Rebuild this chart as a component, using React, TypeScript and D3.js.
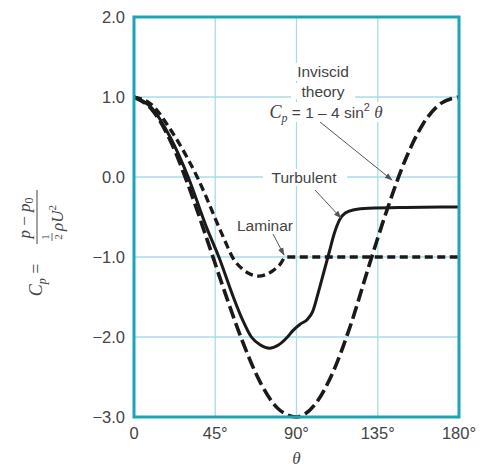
import * as d3 from 'd3'

// Cp vs theta
const thetaInviscid = [0, 10, 20, 30, 40, 50, 60, 70, 80, 90, 100, 110, 120, 130, 140, 150, 160, 170, 180]
const cpInviscid = [1.0, 0.84, 0.46, -0.1, -0.75, -1.42, -2.05, -2.57, -2.9, -3.0, -2.85, -2.45, -1.85, -1.12, -0.42, 0.2, 0.66, 0.92, 1.0]

const thetaTurbulent = [0, 10, 20, 30, 40, 47, 55, 60, 65, 70, 75, 80, 85, 88, 92, 96, 99, 102, 105, 108, 111, 114, 117, 122, 130, 150, 180]
const cpTurbulent = [1.0, 0.86, 0.5, 0.0, -0.62, -1.0, -1.5, -1.78, -2.0, -2.1, -2.14, -2.1, -2.0, -1.92, -1.84, -1.78, -1.68, -1.45, -1.2, -0.95, -0.7, -0.53, -0.45, -0.41, -0.39, -0.38, -0.375]

const thetaLaminar = [0, 10, 20, 30, 35, 40, 45, 50, 55, 60, 65, 69, 73, 77, 81, 84, 120, 180]
const cpLaminar = [1.0, 0.9, 0.6, 0.22, 0.0, -0.25, -0.52, -0.78, -1.02, -1.15, -1.22, -1.24, -1.22, -1.17, -1.09, -1.0, -1.0, -1.0]

const yTicks = [2, 1, 0, -1, -2, -3]
const yTickLabels = ['2.0', '1.0', '0.0', '\u22121.0', '\u22122.0', '\u22123.0']
const xTicks = [0, 45, 90, 135, 180]
const xTickLabels = ['0', '45\u00b0', '90\u00b0', '135\u00b0', '180\u00b0']

const W = 487
const H = 468
const m = { left: 134, right: 28, top: 17, bottom: 51 }

const x = d3.scaleLinear().domain([0, 180]).range([m.left, W - m.right])
const y = d3.scaleLinear().domain([-3, 2]).range([H - m.bottom, m.top])

const line = d3
  .line<[number, number]>()
  .x((d) => x(d[0]))
  .y((d) => y(d[1]))
  .curve(d3.curveMonotoneX)

const zip = (a: number[], b: number[]) => a.map((v, i) => [v, b[i]] as [number, number])

const GRID = '#a9dde4'
const FRAME = '#1aa5b2'
const TXT = '#444'
const SANS = "'Liberation Sans', Arial, sans-serif"
const SERIF = "'Liberation Serif', 'Times New Roman', serif"

export default function App() {
  const [x0, x1] = x.range()
  const [y0, y1] = y.range()
  return (
    <svg width={W} height={H} style={{ position: 'absolute', left: 0, top: 0, background: '#fff' }}>
      <defs>
        <marker id="ah" viewBox="0 0 10 10" refX="9" refY="5" markerWidth="8" markerHeight="8" orient="auto" markerUnits="userSpaceOnUse">
          <path d="M0,1.5 L10,5 L0,8.5 Z" fill="#555" />
        </marker>
      </defs>

      {/* grid */}
      {yTicks.slice(1, -1).map((t) => (
        <line key={'gy' + t} x1={x0} x2={x1} y1={y(t)} y2={y(t)} stroke={GRID} strokeWidth={1.3} />
      ))}
      {xTicks.slice(1, -1).map((t) => (
        <line key={'gx' + t} x1={x(t)} x2={x(t)} y1={y1} y2={y0} stroke={GRID} strokeWidth={1.3} />
      ))}

      {/* white boxes behind labels */}
      <rect x={293} y={63} width={60} height={18} fill="#fff" />
      <rect x={291} y={83} width={64} height={16} fill="#fff" />
      <rect x={262} y={102} width={132} height={20} fill="#fff" />
      <rect x={263} y={169} width={84} height={17} fill="#fff" />

      {/* curves */}
      <path d={line(zip(thetaInviscid, cpInviscid)) || ''} fill="none" stroke="#1a1a1a" strokeWidth={3.6} strokeDasharray="13 5" />
      <path d={line(zip(thetaLaminar, cpLaminar)) || ''} fill="none" stroke="#1a1a1a" strokeWidth={3.3} strokeDasharray="8 4.5" />
      <path d={line(zip(thetaTurbulent, cpTurbulent)) || ''} fill="none" stroke="#1a1a1a" strokeWidth={3} />

      {/* frame */}
      <rect x={x0} y={y1} width={x1 - x0} height={y0 - y1} fill="none" stroke={FRAME} strokeWidth={3} />

      {/* ticks */}
      {yTicks.map((t, i) => (
        <text key={'yl' + t} x={x0 - 9} y={y(t)} dy="0.36em" textAnchor="end" fontFamily={SANS} fontSize={16.5} fill={TXT}>
          {yTickLabels[i]}
        </text>
      ))}
      {xTicks.map((t, i) => (
        <text key={'xl' + t} x={x(t)} y={y0 + 16} dy="0.36em" textAnchor="middle" fontFamily={SANS} fontSize={16.5} fill={TXT}>
          {xTickLabels[i]}
        </text>
      ))}
      <text x={x(90)} y={y0 + 47} textAnchor="middle" fontFamily={SERIF} fontStyle="italic" fontSize={17} fill={TXT}>
        θ
      </text>

      {/* annotations */}
      <g fontFamily={SANS} fontSize={15.5} fill={TXT} textAnchor="middle">
        <text x={323} y={77}>Inviscid</text>
        <text x={323} y={97}>theory</text>
        <text x={326} y={118}>
          <tspan fontFamily={SERIF} fontStyle="italic" fontSize={18}>C</tspan>
          <tspan fontFamily={SERIF} fontStyle="italic" fontSize={12} dy={4}>p</tspan>
          <tspan dy={-4}> = 1 – 4 sin</tspan>
          <tspan fontSize={11} dy={-7}>2</tspan>
          <tspan fontFamily={SERIF} fontStyle="italic" fontSize={17} dy={7}> θ</tspan>
        </text>
        <text x={304} y={183}>Turbulent</text>
        <text x={265} y={231}>Laminar</text>
      </g>
      <g stroke="#555" strokeWidth={1} fill="none">
        <line x1={320} y1={122} x2={392} y2={180} markerEnd="url(#ah)" />
        <line x1={315} y1={190} x2={341} y2={218} markerEnd="url(#ah)" />
        <line x1={273} y1={234} x2={284} y2={255} markerEnd="url(#ah)" />
      </g>

      {/* y-axis label, rotated */}
      <g transform="translate(45,240) rotate(-90)" fontFamily={SERIF} fill={TXT}>
        <text x={-40} y={-3} textAnchor="middle" fontSize={18}>
          <tspan fontStyle="italic">C</tspan>
          <tspan fontStyle="italic" fontSize={12} dy={4}>p</tspan>
          <tspan dy={-4}> =</tspan>
        </text>
        <text x={22} y={-15} textAnchor="middle" fontSize={17}>
          <tspan fontStyle="italic">p</tspan>
          <tspan> − </tspan>
          <tspan fontStyle="italic">p</tspan>
          <tspan fontSize={12} dy={3}>0</tspan>
        </text>
        <line x1={-4} x2={50} y1={-8} y2={-8} stroke={TXT} strokeWidth={1} />
        <text x={3} y={4} textAnchor="middle" fontSize={11}>1</text>
        <line x1={-1} x2={7} y1={7} y2={7} stroke={TXT} strokeWidth={0.8} />
        <text x={3} y={17} textAnchor="middle" fontSize={11}>2</text>
        <text x={9} y={18} fontSize={17}>
          <tspan fontStyle="italic">ρU</tspan>
          <tspan fontSize={11} dy={-7}>2</tspan>
        </text>
      </g>
    </svg>
  )
}
